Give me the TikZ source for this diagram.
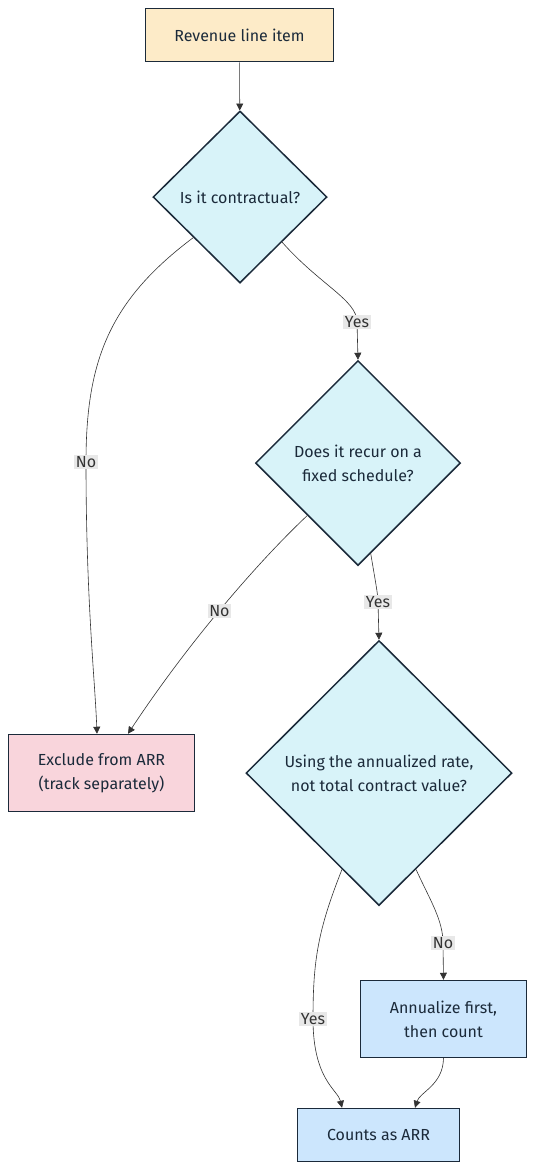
\documentclass[tikz,border=0pt]{standalone}
\usepackage{fontspec}
\setmainfont{Fira Sans}
\usetikzlibrary{shapes.geometric,arrows.meta}

\definecolor{startfill}{HTML}{FDEBC8}
\definecolor{askfill}{HTML}{D8F3F9}
\definecolor{dropfill}{HTML}{F9D5DC}
\definecolor{keepfill}{HTML}{CCE6FD}
\definecolor{rim}{HTML}{1B2A3A}
\definecolor{wire}{HTML}{333333}
\definecolor{tag}{HTML}{E8E8E8}

\begin{document}
\begin{tikzpicture}[x=1pt,y=1pt,
    every node/.style={font=\fontsize{16}{24}\selectfont, align=center, text=rim},
    box/.style={draw=rim, line width=1.5pt, inner sep=0pt},
    ask/.style={diamond, draw=rim, line width=1.5pt, fill=askfill, inner sep=0pt},
    flow/.style={->, >={Triangle[length=7pt,width=7pt]}, draw=wire, line width=0.6pt},
    lbl/.style={fill=tag, inner sep=1.5pt, text=wire}]
    \useasboundingbox (0,0) rectangle (535,-1171);

    % Start and the three questions
    \node[box, fill=startfill, minimum width=188pt, minimum height=53pt] (item) at (239.5,-35) {Revenue line item};
    \node[ask, minimum width=174pt, minimum height=172pt] (contract) at (240,-197) {Is it contractual?};
    \node[ask, minimum width=205pt, minimum height=205pt] (recur) at (358,-463) {Does it recur on a\\fixed schedule?};
    \node[ask, minimum width=266pt, minimum height=265pt] (rate) at (379,-773) {Using the annualized rate,\\not total contract value?};

    % Outcomes
    \node[box, fill=dropfill, minimum width=186pt, minimum height=77pt] (exclude) at (101.5,-773) {Exclude from ARR\\(track separately)};
    \node[box, fill=keepfill, minimum width=166pt, minimum height=77pt] (annual) at (443.5,-1019) {Annualize first,\\then count};
    \node[box, fill=keepfill, minimum width=162pt, minimum height=53pt] (counts) at (378.5,-1135) {Counts as ARR};

    % Edges from the questions
    \draw[flow] (item) -- (contract);
    \draw[flow] (contract.221) .. controls (110,-300) and (86,-360) .. (86,-462) node[lbl] {No}
        .. controls (86,-600) and (95,-680) .. ([xshift=-4.5pt]exclude.north);
    \draw[flow] (contract.313) .. controls (320,-285) and (357,-300) .. (357,-322) node[lbl] {Yes}
        -- (recur.north);
    \draw[flow] (recur.226) .. controls (260,-560) and (190,-640) .. ([xshift=26.5pt]exclude.north)
        node[lbl, pos=0.52] {No};
    \draw[flow] (recur.278) .. controls (376,-585) and (378,-595) .. (378,-602) node[lbl] {Yes}
        -- (rate.north);

    % Edges into the ARR count
    \draw[flow] (rate.249) .. controls (318,-930) and (313,-960) .. (313,-1019) node[lbl] {Yes}
        .. controls (313,-1080) and (338,-1090) .. ([xshift=-36.5pt]counts.north);
    \draw[flow] (rate.291) .. controls (430,-900) and (443,-920) .. (443,-943) node[lbl] {No}
        -- (annual.north);
    \draw[flow] (annual.south) .. controls (443,-1085) and (420,-1092) .. ([xshift=36.5pt]counts.north);
\end{tikzpicture}
\end{document}
